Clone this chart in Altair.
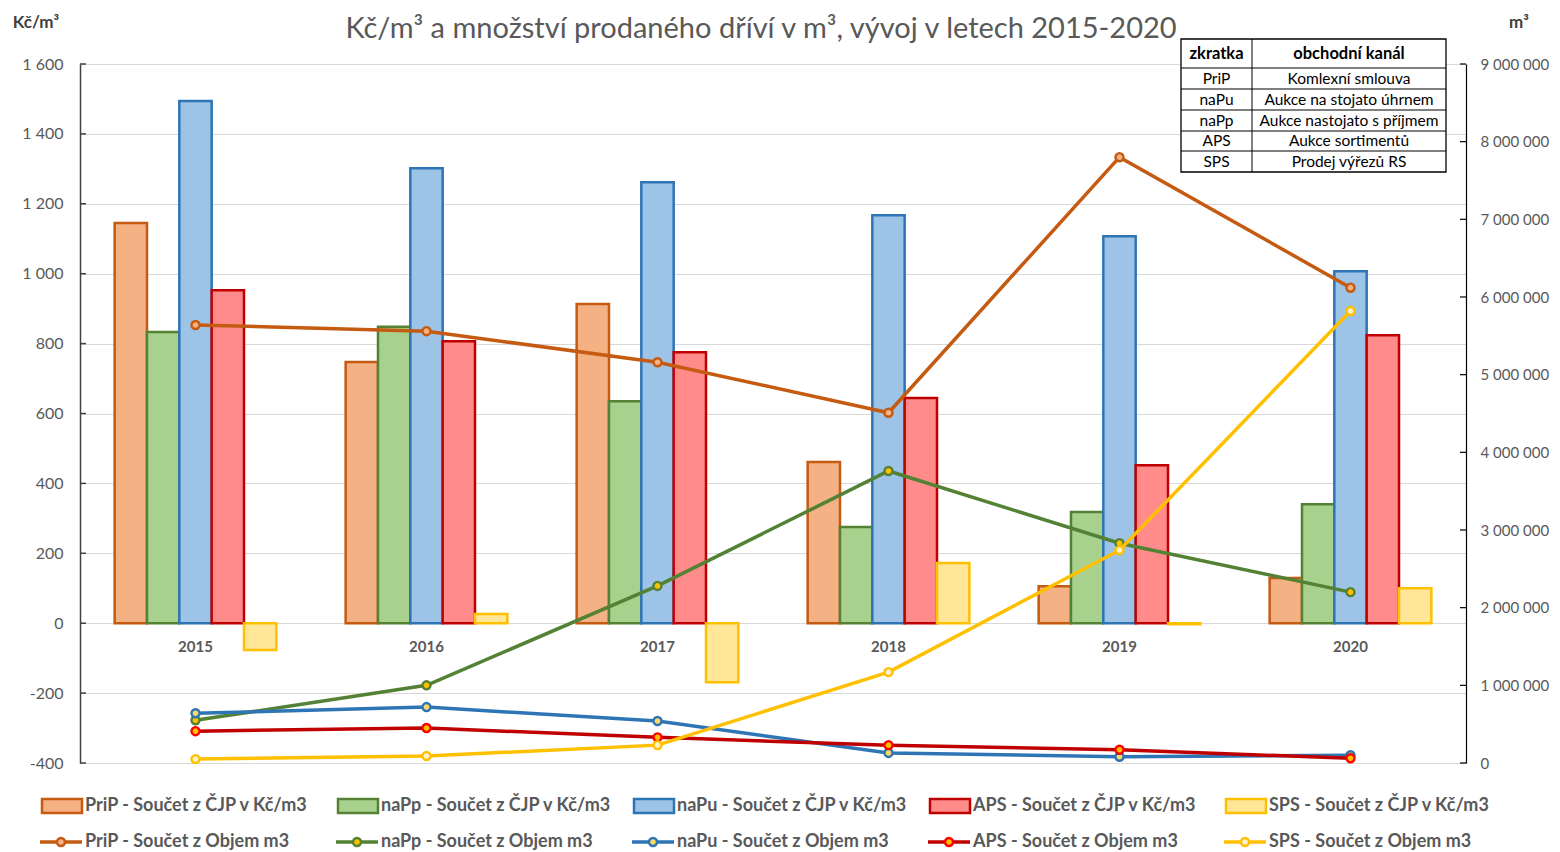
import altair as alt
import pandas as pd

years = ["2015", "2016", "2017", "2018", "2019", "2020"]
series = ["PriP", "naPp", "naPu", "APS", "SPS"]

# Kč/m3 (bars, left axis)
price_PriP = [1145, 747, 913, 461, 106, 129]
price_naPp = [833, 848, 635, 275, 318, 340]
price_naPu = [1494, 1302, 1262, 1167, 1107, 1007]
price_APS = [953, 807, 775, 644, 452, 824]
price_SPS = [-77, 26, -169, 172, -3, 100]

# Objem m3 (lines, right axis)
vol_PriP = [5640000, 5560000, 5160000, 4510000, 7800000, 6120000]
vol_naPp = [550000, 1000000, 2280000, 3760000, 2830000, 2200000]
vol_naPu = [640000, 720000, 540000, 130000, 80000, 100000]
vol_APS = [410000, 450000, 330000, 230000, 170000, 60000]
vol_SPS = [50000, 90000, 230000, 1170000, 2740000, 5820000]

left_ticks = [-400, -200, 0, 200, 400, 600, 800, 1000, 1200, 1400, 1600]
right_ticks = [0, 1000000, 2000000, 3000000, 4000000, 5000000, 6000000, 7000000, 8000000, 9000000]

table_head = ["zkratka", "obchodní kanál"]
table_abbr = ["PriP", "naPu", "naPp", "APS", "SPS"]
table_name = ["Komlexní smlouva", "Aukce na stojato úhrnem", "Aukce nastojato s příjmem",
              "Aukce sortimentů", "Prodej výřezů RS"]

title_text = "Kč/m³ a  množství prodaného dříví v m³, vývoj v letech 2015-2020"

bar_fill = ["#F4B183", "#A9D18E", "#9DC3E6", "#FF8B8B", "#FFE699"]
bar_stroke = ["#C55A11", "#548235", "#2E75B6", "#C00000", "#FFC000"]
line_color = ["#C55A11", "#548235", "#2E75B6", "#C00000", "#FFC000"]
mk_fill = ["#F4B183", "#FFC000", "#FFD966", "#FFC000", "#FFF2CC"]
mk_stroke = ["#C55A11", "#548235", "#2E75B6", "#FF0000", "#FFC000"]

prices = [price_PriP, price_naPp, price_naPu, price_APS, price_SPS]
vols = [vol_PriP, vol_naPp, vol_naPu, vol_APS, vol_SPS]

df_bars = pd.DataFrame([
    {"year": y, "series": s, "value": prices[i][j]}
    for i, s in enumerate(series) for j, y in enumerate(years)
])
df_lines = pd.DataFrame([
    {"year": y, "series": s, "vol": vols[i][j]}
    for i, s in enumerate(series) for j, y in enumerate(years)
])
one = pd.DataFrame({"k": [0]})

FONT = "Lato"
GREY = "#595959"
W, H = 1386, 699

num_expr = "replace(replace(format(datum.value, ','), regexp(',', 'g'), ' '), '\u2212', '-')"

xscale = alt.Scale(domain=years, paddingInner=0.3, paddingOuter=0.15)
xaxis = alt.Axis(title=None, offset=-139, domain=False, ticks=False, labelAngle=0,
                 labelFont=FONT, labelFontSize=15, labelFontWeight="bold",
                 labelColor=GREY, labelPadding=15)
X = alt.X("year:N", scale=xscale, axis=xaxis)

lscale = alt.Scale(domain=[-400, 1600], nice=False, zero=False)
laxis = alt.Axis(title=None, values=left_ticks, labelExpr=num_expr, grid=True,
                 gridColor="#D9D9D9", gridWidth=1, ticks=False, domainColor="#404040",
                 domainWidth=1.5, labelPadding=17, labelFont=FONT, labelFontSize=16,
                 labelColor=GREY)
rscale = alt.Scale(domain=[0, 9000000], nice=False)
raxis = alt.Axis(title=None, orient="right", values=right_ticks, labelExpr=num_expr,
                 grid=False, ticks=False, domainColor="#000000", domainWidth=1.2,
                 labelPadding=14, labelFont=FONT, labelFontSize=15, labelColor=GREY)

bars = alt.Chart(df_bars).mark_bar(strokeWidth=2.5).encode(
    x=X,
    xOffset=alt.XOffset("series:N", sort=series,
                        scale=alt.Scale(domain=series, paddingInner=0, paddingOuter=0)),
    y=alt.Y("value:Q", scale=lscale, axis=laxis),
    fill=alt.Fill("series:N", scale=alt.Scale(domain=series, range=bar_fill), legend=None),
    stroke=alt.Stroke("series:N", scale=alt.Scale(domain=series, range=bar_stroke), legend=None),
)
lticks = alt.Chart(pd.DataFrame({"value": left_ticks})).mark_rule(
    color="#404040", strokeWidth=1.5).encode(
    y=alt.Y("value:Q", scale=lscale, axis=laxis), x=alt.value(0), x2=alt.value(6))
left = alt.layer(bars, lticks)

right_layers = []
rticks = alt.Chart(pd.DataFrame({"vol": right_ticks})).mark_rule(
    color="#000000", strokeWidth=1.2).encode(
    y=alt.Y("vol:Q", scale=rscale, axis=raxis), x=alt.value(W - 6), x2=alt.value(W))
right_layers.append(rticks)
for i, s in enumerate(series):
    base = alt.Chart(df_lines).transform_filter(alt.datum.series == s)
    right_layers.append(base.mark_line(color=line_color[i], strokeWidth=3.5).encode(
        x=X, y=alt.Y("vol:Q", scale=rscale, axis=raxis)))
    right_layers.append(base.mark_point(shape="circle", filled=True, fill=mk_fill[i],
                                        stroke=mk_stroke[i], strokeWidth=2.4, size=65,
                                        opacity=1).encode(
        x=X, y=alt.Y("vol:Q", scale=rscale, axis=raxis)))
right = alt.layer(*right_layers)

deco = []


def text(t, x, y, size, bold=False, color=GREY, align="center"):
    return alt.Chart(one).mark_text(text=t, font=FONT, fontSize=size,
                                    fontWeight="bold" if bold else "normal",
                                    color=color, align=align, baseline="middle").encode(
        x=alt.value(x), y=alt.value(y))


def rect(x1, x2, y1, y2, fill, stroke, sw):
    return alt.Chart(one).mark_rect(fill=fill, stroke=stroke, strokeWidth=sw).encode(
        x=alt.value(x1), x2=alt.value(x2), y=alt.value(y1), y2=alt.value(y2))


def rule(x1, x2, y1, y2, color, sw):
    return alt.Chart(one).mark_rule(color=color, strokeWidth=sw).encode(
        x=alt.value(x1), x2=alt.value(x2), y=alt.value(y1), y2=alt.value(y2))


# title and axis titles
deco.append(alt.Chart(one).mark_text(text=title_text, font=FONT, fontSize=29, color=GREY,
                                     align="center", baseline="alphabetic").encode(
    x=alt.value(681), y=alt.value(-26)))
deco.append(text("Kč/m³", -44, -41, 17, bold=True, color="#404040"))
deco.append(text("m³", 1439, -41, 17, bold=True, color="#404040"))

# table
tx1, tx2, tdiv = 1101, 1366, 1172
row_edges = [-25, 4, 25, 46, 67, 87, 108]
deco.append(rect(tx1, tx2, row_edges[0], row_edges[-1], "#FFFFFF", "#000000", 1.3))
for e in row_edges[1:-1]:
    deco.append(rule(tx1, tx2, e, e, "#000000", 1))
deco.append(rule(tdiv, tdiv, row_edges[0], row_edges[-1], "#000000", 1))
c1, c2 = (tx1 + tdiv) / 2, (tdiv + tx2) / 2
hy = (row_edges[0] + row_edges[1]) / 2
deco.append(text(table_head[0], c1, hy, 16.5, bold=True, color="#000000"))
deco.append(text(table_head[1], c2, hy, 16.5, bold=True, color="#000000"))
for k in range(5):
    ry = (row_edges[k + 1] + row_edges[k + 2]) / 2
    deco.append(text(table_abbr[k], c1, ry, 15.5, color="#000000"))
    deco.append(text(table_name[k], c2, ry, 15.5, color="#000000"))

# bottom legend
row1, row2 = 742, 778
for i, s in enumerate(series):
    x0 = -38 + 296 * i
    deco.append(rect(x0, x0 + 40, row1 - 7, row1 + 7, bar_fill[i], bar_stroke[i], 2.5))
    deco.append(text(f"{s} - Součet z ČJP v Kč/m3", x0 + 43, row1, 18, bold=True,
                     align="left"))
    deco.append(rule(x0 - 2, x0 + 40, row2, row2, line_color[i], 3.5))
    deco.append(alt.Chart(one).mark_point(shape="circle", filled=True, fill=mk_fill[i],
                                          stroke=mk_stroke[i], strokeWidth=2.4, size=65,
                                          opacity=1).encode(
        x=alt.value(x0 + 19), y=alt.value(row2)))
    deco.append(text(f"{s} - Součet z Objem m3", x0 + 43, row2, 18, bold=True,
                     align="left"))

chart = alt.layer(left, right, *deco).resolve_scale(y="independent").properties(
    width=W, height=H, autosize="none",
    padding={"left": 72, "top": 56, "right": 86, "bottom": 89},
).configure_view(stroke=None).configure(font=FONT)

chart.save("out.html", embed_options={"renderer": "svg", "actions": False})
